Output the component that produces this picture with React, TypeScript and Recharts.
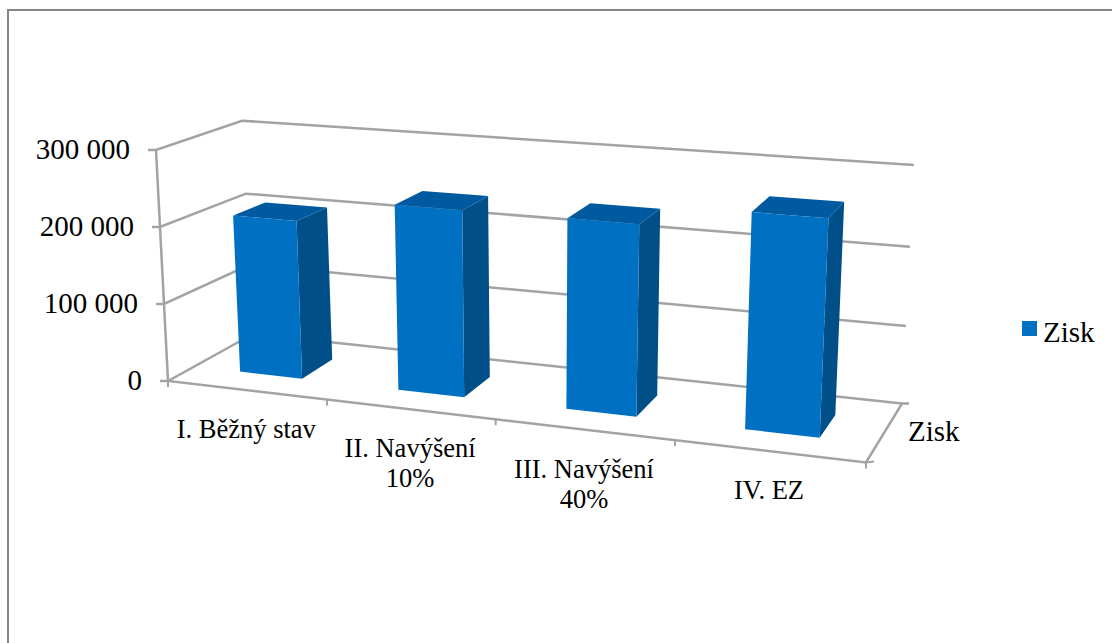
import React from "react";
import { BarChart, Bar, XAxis, YAxis, CartesianGrid, Legend, usePlotArea } from "recharts";

const categories = ["I. Běžný stav", "II. Navýšení 10%", "III. Navýšení 40%", "IV. EZ"];
const profit = [207000, 239000, 240000, 266000];
const valueTicks = [0, 100000, 200000, 300000];
const seriesName = "Zisk";

const rows = categories.map((name, i) => ({ name, zisk: profit[i] }));

const FRONT_COLOR = "#0070C2";
const TOP_COLOR = "#005AA0";
const SIDE_COLOR = "#004F88";
const GRID_COLOR = "#A3A3A3";
const SERIF = '"Liberation Serif", "Times New Roman", serif';

type Pt = [number, number];

// Corners of the 3D box: [front/back][left/right][floor/ceiling]
const FLB: Pt = [168, 381];
const FLT: Pt = [156, 150];
const FRB: Pt = [866, 462.5];
const FRT: Pt = [878, 207.5];
const BLB: Pt = [253, 334];
const BLT: Pt = [242, 120.7];
const BRB: Pt = [902, 403.5];
const BRT: Pt = [914, 165];

// Foreshortening along the category direction and, towards the back, the value direction
const PERSPECTIVE = -0.115;
const HEIGHT_PERSPECTIVE = -0.04;
// Where the bars sit inside the depth of the box
const BAR_FRONT = 0.31;
const BAR_BACK = 0.7;

const lerp = (a: Pt, b: Pt, t: number): Pt => [a[0] + (b[0] - a[0]) * t, a[1] + (b[1] - a[1]) * t];

// Maps (along category axis, into depth, up value axis), each 0..1, to the page
function project(u: number, d: number, h: number): Pt {
  const w = (u * (1 + PERSPECTIVE)) / (1 + PERSPECTIVE * u);
  const kh = HEIGHT_PERSPECTIVE * d;
  const v = (h * (1 + kh)) / (1 + kh * h);
  const floor = lerp(lerp(FLB, FRB, w), lerp(BLB, BRB, w), d);
  const ceil = lerp(lerp(FLT, FRT, w), lerp(BLT, BRT, w), d);
  return lerp(floor, ceil, v);
}

const pts = (list: Pt[]) => list.map((p) => `${p[0].toFixed(1)},${p[1].toFixed(1)}`).join(" ");

function Prism(props: any) {
  const plot = usePlotArea();
  if (!plot) return null;
  const { x, width, height } = props;
  const u0 = (x - plot.x) / plot.width;
  const u1 = (x + width - plot.x) / plot.width;
  const h = height / plot.height;
  const a = project(u0, BAR_FRONT, 0);
  const b = project(u1, BAR_FRONT, 0);
  const c = project(u1, BAR_FRONT, h);
  const e = project(u0, BAR_FRONT, h);
  const f = project(u0, BAR_BACK, h);
  const g = project(u1, BAR_BACK, h);
  const k = project(u1, BAR_BACK, 0);
  return (
    <g>
      <polygon points={pts([b, k, g, c])} fill={SIDE_COLOR} />
      <polygon points={pts([e, c, g, f])} fill={TOP_COLOR} />
      <polygon points={pts([a, b, c, e])} fill={FRONT_COLOR} />
    </g>
  );
}

function WallLine({ y }: { y: number }) {
  const plot = usePlotArea();
  if (!plot) return null;
  const h = (plot.y + plot.height - y) / plot.height;
  const front = project(0, 0, h);
  const back = project(0, 1, h);
  const right = project(1, 1, h);
  const common = { fill: "none", stroke: GRID_COLOR, strokeWidth: 2.5 };
  return (
    <g>
      <polyline {...common} points={pts([[front[0] - 8, front[1]], front, back, right])} />
      {h < 0.001 && (
        <g>
          <polyline {...common} points={pts([project(0, 0, 1), front, project(1, 0, 0), right, [right[0] + 7, right[1]]])} />
          {[0, 0.25, 0.5, 0.75, 1].map((t) => {
            const p = project(t, 0, 0);
            return <line key={t} x1={p[0]} y1={p[1]} x2={p[0]} y2={p[1] + 6} stroke={GRID_COLOR} strokeWidth={2} />;
          })}
          <line x1={FRB[0]} y1={FRB[1]} x2={FRB[0] + 8} y2={FRB[1] - 1} stroke={GRID_COLOR} strokeWidth={2} />
          <text x={908} y={441} fontFamily={SERIF} fontSize={29} fill="#000">
            {seriesName}
          </text>
        </g>
      )}
    </g>
  );
}

function ValueTick(props: any) {
  const plot = usePlotArea();
  if (!plot) return null;
  const h = (plot.y + plot.height - props.y) / plot.height;
  const p = project(0, 0, h);
  const label = String(props.payload.value).replace(/\B(?=(\d{3})+$)/g, " ");
  return (
    <text x={p[0] - 26} y={p[1] + 9} textAnchor="end" fontFamily={SERIF} fontSize={29} fill="#000">
      {label}
    </text>
  );
}

function CategoryTick(props: any) {
  const plot = usePlotArea();
  if (!plot) return null;
  const u = (props.x - plot.x) / plot.width;
  const p = project(u, 0, 0);
  const words = String(props.payload.value).split(" ");
  const wrap = words[words.length - 1].endsWith("%");
  const lines = wrap ? [words.slice(0, -1).join(" "), words[words.length - 1]] : [words.join(" ")];
  return (
    <text textAnchor="middle" fontFamily={SERIF} fontSize={26.5} fill="#000">
      {lines.map((line, i) => (
        <tspan key={i} x={p[0]} y={p[1] + 48 + i * 30}>
          {line}
        </tspan>
      ))}
    </text>
  );
}

function LegendBox({ payload }: any) {
  return (
    <div style={{ position: "relative", width: 90, height: 40 }}>
      {(payload ?? []).map((entry: any) => (
        <div key={entry.value}>
          <span style={{ position: "absolute", left: 0, top: 11, width: 15, height: 15, background: entry.color }} />
          <span style={{ position: "absolute", left: 21, top: 3, color: "#000", fontFamily: SERIF, fontSize: 29, lineHeight: "38px" }}>
            {entry.value}
          </span>
        </div>
      ))}
    </div>
  );
}

export default function App() {
  return (
    <div style={{ position: "absolute", left: 0, top: 0, width: 1112, height: 643, overflow: "hidden", background: "#fff" }}>
      <div
        style={{
          position: "absolute",
          left: 7,
          top: 9,
          width: 1105,
          height: 634,
          borderLeft: "2px solid #868686",
          borderTop: "2px solid #868686",
          boxSizing: "border-box",
        }}
      />
      <div style={{ position: "absolute", left: 0, top: 0 }}>
        <BarChart
          width={1112}
          height={643}
          data={rows}
          barCategoryGap="30%"
          margin={{ top: 150, right: 100, bottom: 200, left: 100 }}
        >
          <CartesianGrid vertical={false} horizontal={(p: any) => <WallLine key={p.key ?? p.y1} y={p.y1} />} />
          <XAxis dataKey="name" axisLine={false} tickLine={false} interval={0} tick={(p: any) => <CategoryTick {...p} />} />
          <YAxis
            domain={[0, 300000]}
            ticks={valueTicks}
            axisLine={false}
            tickLine={false}
            tick={(p: any) => <ValueTick {...p} />}
          />
          <Legend
            layout="vertical"
            align="right"
            verticalAlign="middle"
            content={(p: any) => <LegendBox {...p} />}
            wrapperStyle={{ position: "absolute", left: 1022, top: 310, right: "auto", bottom: "auto", width: 90 }}
          />
          <Bar dataKey="zisk" name={seriesName} fill={FRONT_COLOR} isAnimationActive={false} shape={(p: any) => <Prism {...p} />} />
        </BarChart>
      </div>
    </div>
  );
}
